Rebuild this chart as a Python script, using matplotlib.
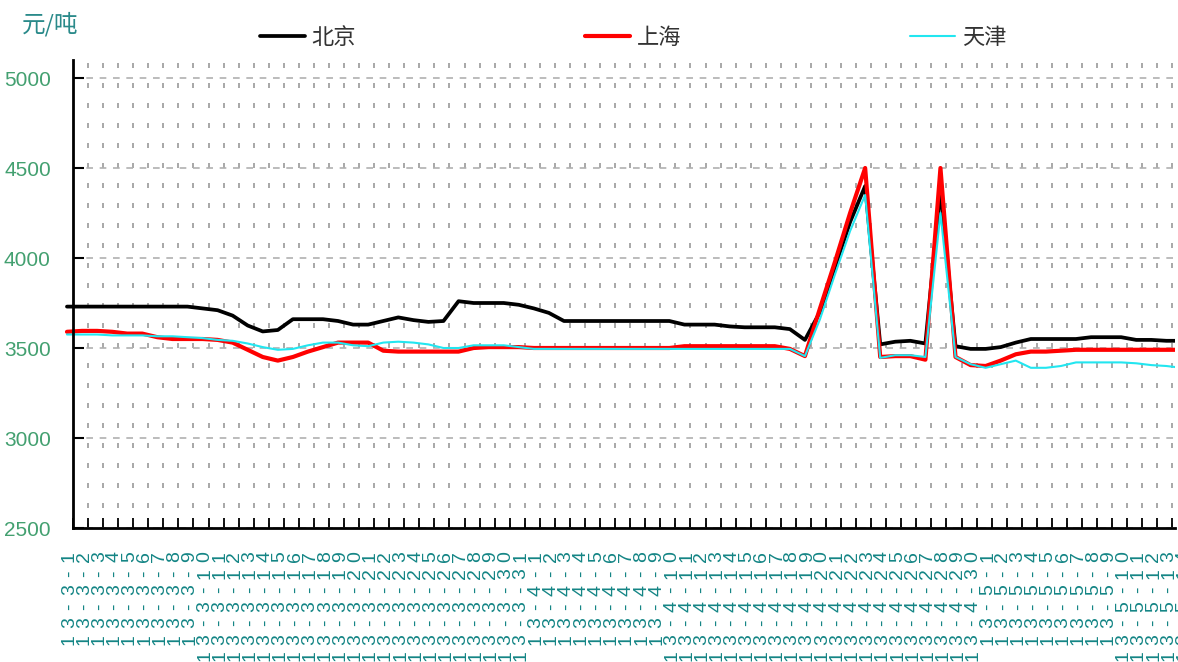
import numpy as np
import pandas as pd
import matplotlib
matplotlib.use('Agg')
import matplotlib.pyplot as plt
from matplotlib import transforms as mtrans

# ---------------- data ----------------
dates = pd.date_range('2013-03-01', periods=75)
labels = [f"{d.year % 100}-{d.month}-{d.day}" for d in dates]

series_names = ['北京', '上海', '天津']

beijing = [3730, 3730, 3730, 3730, 3730, 3730, 3730, 3730, 3730, 3720,
           3710, 3680, 3625, 3592, 3600, 3660, 3660, 3660, 3650, 3630,
           3630, 3650, 3670, 3655, 3645, 3650, 3760, 3750, 3750, 3750,
           3740, 3720, 3695, 3650, 3650, 3650, 3650, 3650, 3650, 3650,
           3650, 3630, 3630, 3630, 3620, 3615, 3615, 3615, 3605, 3545,
           3700, 3950, 4200, 4400, 3520, 3535, 3540, 3525, 4380, 3510,
           3495, 3495, 3505, 3530, 3550, 3550, 3550, 3550, 3560, 3560,
           3560, 3545, 3545, 3540, 3540]

shanghai = [3590, 3595, 3595, 3590, 3580, 3580, 3560, 3550, 3550, 3550,
            3545, 3530, 3490, 3450, 3430, 3450, 3480, 3505, 3530, 3530,
            3530, 3485, 3480, 3480, 3480, 3480, 3480, 3500, 3505, 3505,
            3505, 3500, 3500, 3500, 3500, 3500, 3500, 3500, 3500, 3500,
            3500, 3510, 3510, 3510, 3510, 3510, 3510, 3510, 3495, 3455,
            3720, 3980, 4250, 4500, 3450, 3455, 3455, 3435, 4500, 3450,
            3405, 3400, 3430, 3465, 3480, 3480, 3485, 3490, 3490, 3490,
            3490, 3490, 3490, 3490, 3490]

tianjin = [3575, 3575, 3575, 3570, 3570, 3570, 3565, 3565, 3560, 3555,
           3545, 3540, 3525, 3505, 3490, 3495, 3515, 3530, 3530, 3515,
           3510, 3530, 3535, 3530, 3520, 3500, 3500, 3515, 3515, 3515,
           3505, 3495, 3495, 3495, 3495, 3495, 3495, 3495, 3495, 3495,
           3495, 3495, 3495, 3495, 3495, 3495, 3495, 3495, 3495, 3455,
           3660, 3910, 4150, 4350, 3445, 3460, 3460, 3450, 4250, 3450,
           3410, 3390, 3410, 3430, 3390, 3390, 3400, 3420, 3420, 3420,
           3420, 3415, 3405, 3400, 3390]

yticks = [2500, 3000, 3500, 4000, 4500, 5000]
unit_label = '元/吨'

# ---------------- figure ----------------
plt.rcParams['font.family'] = ['Noto Sans CJK SC', 'DejaVu Sans']

W, H = 1178, 662
fig = plt.figure(figsize=(W / 100, H / 100), dpi=100)
ax = fig.add_axes([73 / W, 1 - 528 / H, (1175 - 73) / W, (528 - 60) / H])

step = 15.06
x0 = 0.4
n = len(labels)
x = np.arange(n)
xmax = x0 + (1175 - 73) / step
ax.set_xlim(x0, xmax)
ax.set_ylim(2500, 5100)
ax.set_axisbelow(True)

clip = mtrans.TransformedBbox(mtrans.Bbox.from_extents(-0.01, -0.05, 1.0, 1.05), ax.transAxes)
styles = [('#000000', 2.7), ('#ff0000', 3.0), ('#22e6f0', 1.5)]
handles = []
for vals, (c, lw), name in zip([beijing, shanghai, tianjin], styles, series_names):
    ln, = ax.plot(x, vals, color=c, lw=lw, label=name, solid_joinstyle='round',
                  solid_capstyle='round')
    ln.set_clip_path(None)
    ln.set_clip_box(clip)
    handles.append(ln)

# grid & ticks
ax.set_xticks(np.arange(x0, xmax, 1.0))
ax.set_yticks(yticks)
ax.grid(axis='x', linestyle=(0, (3, 9)), color='#9a9a9a', lw=1.2)
ax.grid(axis='y', linestyle=(0, (4, 4)), color='#b0b0b0', lw=1.2)
ax.tick_params(axis='x', direction='in', length=7, width=1.3, labelbottom=False)
ax.tick_params(axis='y', direction='in', length=8, width=1.5, labelsize=15,
               labelcolor='#43a070', pad=16)
for lbl in ax.get_yticklabels():
    lbl.set_fontfamily('Liberation Sans')

for s in ['top', 'right']:
    ax.spines[s].set_visible(False)
for s in ['left', 'bottom']:
    ax.spines[s].set_linewidth(2)
    ax.spines[s].set_color('black')

# rotated, per-character spaced category labels
trans = mtrans.blended_transform_factory(ax.transData, fig.transFigure)
row_y = [557 + 16.5 * k for k in range(8)]
for i, lab in enumerate(labels):
    for k, ch in enumerate(reversed(lab)):
        ax.text(i + 0.15, 1 - row_y[k] / H, ch, transform=trans, rotation=90,
                ha='center', va='center', fontsize=14, color='#148585',
                family='Liberation Sans', clip_on=False)

fig.text(22 / W, 1 - 24 / H, unit_label, fontsize=17, color='#2a8a8a',
         ha='left', va='center')

fig.legend(handles=handles, loc='center', bbox_to_anchor=(633 / W, 1 - 37 / H),
           ncol=3, frameon=False, fontsize=16, handlelength=2.03,
           handletextpad=0.3, columnspacing=10.3, labelcolor='#333333',
           borderpad=0, borderaxespad=0)

fig.savefig('out.png', dpi=100)
